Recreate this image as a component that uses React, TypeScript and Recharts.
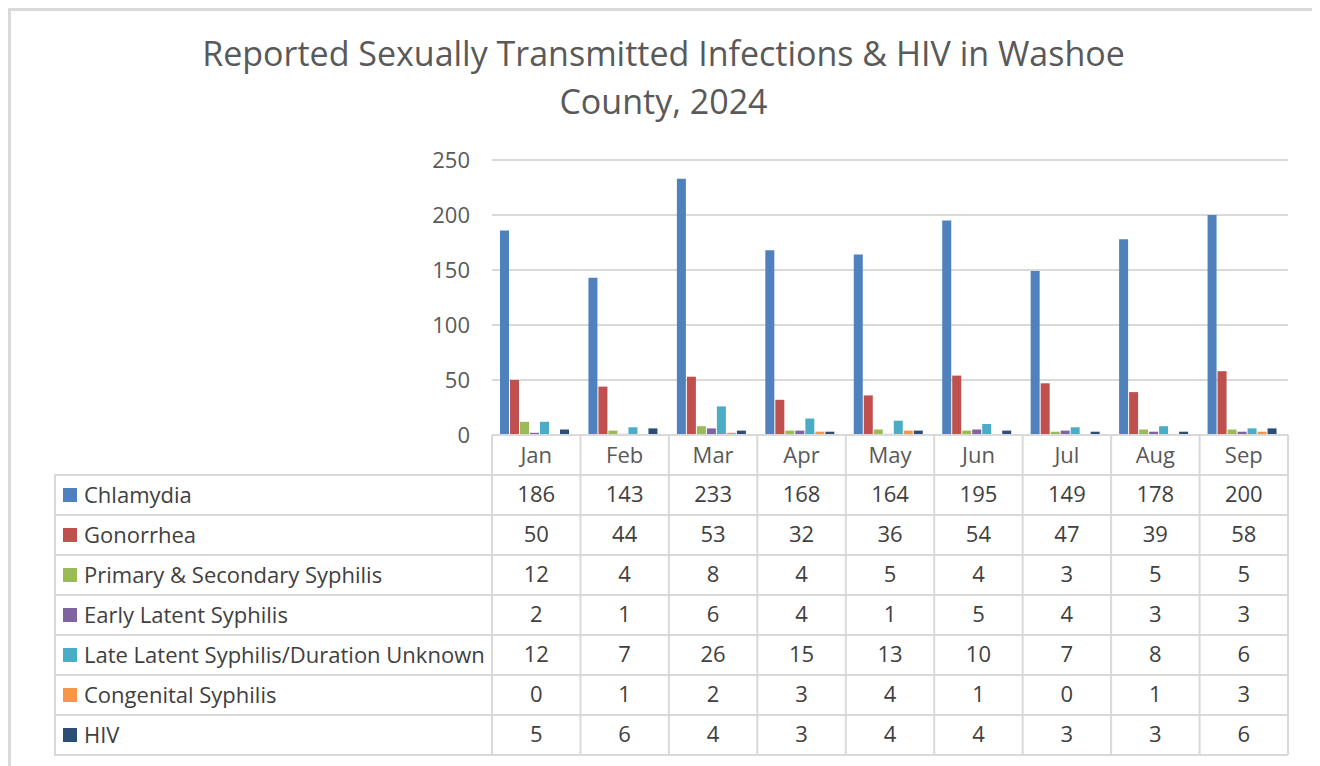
import React from "react";
import { BarChart, Bar, XAxis, YAxis, CartesianGrid } from "recharts";

const months = ["Jan", "Feb", "Mar", "Apr", "May", "Jun", "Jul", "Aug", "Sep"];
const chlamydia = [186, 143, 233, 168, 164, 195, 149, 178, 200];
const gonorrhea = [50, 44, 53, 32, 36, 54, 47, 39, 58];
const primarySecondary = [12, 4, 8, 4, 5, 4, 3, 5, 5];
const earlyLatent = [2, 1, 6, 4, 1, 5, 4, 3, 3];
const lateLatent = [12, 7, 26, 15, 13, 10, 7, 8, 6];
const congenital = [0, 1, 2, 3, 4, 1, 0, 1, 3];
const hiv = [5, 6, 4, 3, 4, 4, 3, 3, 6];
const yTicks = [0, 50, 100, 150, 200, 250];

const series = [
  { key: "chlamydia", name: "Chlamydia", values: chlamydia, color: "#4F81BD" },
  { key: "gonorrhea", name: "Gonorrhea", values: gonorrhea, color: "#C0504D" },
  { key: "ps", name: "Primary & Secondary Syphilis", values: primarySecondary, color: "#9BBB59" },
  { key: "el", name: "Early Latent Syphilis", values: earlyLatent, color: "#8064A2" },
  { key: "ll", name: "Late Latent Syphilis/Duration Unknown", values: lateLatent, color: "#4BACC6" },
  { key: "cong", name: "Congenital Syphilis", values: congenital, color: "#F79646" },
  { key: "hiv", name: "HIV", values: hiv, color: "#2C4D75" },
];

const data = months.map((m, i) => {
  const row: Record<string, any> = { month: m };
  series.forEach((s) => (row[s.key] = s.values[i]));
  return row;
});

const FONT = "'Open Sans', sans-serif";
const GRID = "#d9d9d9";
const FRAME = "#dadada";
const ROW_H = 40;
const FS = 22;

const TableTick = (props: any) => {
  const { x, y, payload, index, width, visibleTicksCount } = props;
  const n = visibleTicksCount || months.length;
  const band = (width || 796) / n;
  const left = x - band / 2;
  const right = x + band / 2;
  const total = ROW_H * (series.length + 1);
  const i = typeof index === "number" ? index : months.indexOf(payload.value);
  return (
    <g>
      <line x1={left} x2={left} y1={y} y2={y + total} stroke={GRID} strokeWidth={2} />
      {i === n - 1 && (
        <line x1={right} x2={right} y1={y} y2={y + total} stroke={GRID} strokeWidth={2} />
      )}
      {series.map((_, k) => (
        <line
          key={k}
          x1={left}
          x2={right}
          y1={y + ROW_H * (k + 1)}
          y2={y + ROW_H * (k + 1)}
          stroke={GRID}
          strokeWidth={2}
        />
      ))}
      <line x1={left} x2={right} y1={y + total} y2={y + total} stroke={GRID} strokeWidth={2} />
      <text
        x={x}
        y={y + ROW_H / 2 - 1}
        textAnchor="middle"
        dominantBaseline="central"
        fontFamily={FONT}
        fontSize={FS}
        fill="#595959"
      >
        {payload.value}
      </text>
      {series.map((s, k) => (
        <text
          key={s.key}
          x={x}
          y={y + ROW_H * (k + 1) + ROW_H / 2 - 2}
          textAnchor="middle"
          dominantBaseline="central"
          fontFamily={FONT}
          fontSize={FS}
          fill="#404040"
        >
          {s.values[i]}
        </text>
      ))}
    </g>
  );
};

const frameBar = (style: React.CSSProperties) => (
  <div style={{ position: "absolute", background: FRAME, zIndex: 10, ...style }} />
);

export default function App() {
  return (
    <div style={{ position: "relative", width: 1312, height: 758 }}>
      <div
        style={{
          position: "absolute",
          left: -8,
          top: -8,
          width: 1320,
          height: 766,
        }}
      >
        <div
          style={{
            position: "absolute",
            left: 0,
            top: 29,
            width: 1327,
            textAlign: "center",
            fontFamily: FONT,
            fontSize: 34,
            lineHeight: "48px",
            color: "#595959",
          }}
        >
          Reported Sexually Transmitted Infections &amp; HIV in Washoe
          <br />
          County, 2024
        </div>
        <div style={{ position: "absolute", left: 0, top: 0 }}>
          <BarChart
            width={1320}
            height={766}
            data={data}
            margin={{ top: 160, right: 32, bottom: 11, left: 432 }}
            barCategoryGap={8}
            barGap={1}
          >
            <CartesianGrid vertical={false} stroke={GRID} strokeWidth={2} />
            <XAxis
              dataKey="month"
              height={320}
              tickLine={false}
              tickSize={0}
              tickMargin={0}
              axisLine={{ stroke: GRID, strokeWidth: 2 }}
              tick={<TableTick />}
              interval={0}
            />
            <YAxis
              width={60}
              domain={[0, 250]}
              ticks={yTicks}
              tickLine={false}
              axisLine={false}
              tickSize={0}
              tickMargin={22}
              tick={{ fontFamily: FONT, fontSize: FS, fill: "#595959" }}
            />
            {series.map((s) => (
              <Bar
                key={s.key}
                dataKey={s.key}
                name={s.name}
                fill={s.color}
                isAnimationActive={false}
              />
            ))}
          </BarChart>
        </div>
        {series.map((s, k) => (
          <div
            key={s.key}
            style={{
              position: "absolute",
              left: 54,
              top: 474 + ROW_H * k,
              width: 439,
              height: ROW_H + 2,
              border: `2px solid ${GRID}`,
              borderRight: "none",
              boxSizing: "border-box",
              display: "flex",
              alignItems: "center",
              paddingBottom: 3,
              fontFamily: FONT,
              fontSize: FS,
              color: "#404040",
              whiteSpace: "nowrap",
            }}
          >
            <span
              style={{
                display: "inline-block",
                width: 14,
                height: 14,
                background: s.color,
                marginLeft: 7,
                marginRight: 7,
                marginTop: 3,
              }}
            />
            {s.name}
          </div>
        ))}
      </div>
      {frameBar({ left: 0, top: 0, width: 1310, height: 3 })}
      {frameBar({ left: 0, top: 0, width: 3, height: 758 })}
      {frameBar({ left: 1307, top: 0, width: 3, height: 758 })}
    </div>
  );
}
